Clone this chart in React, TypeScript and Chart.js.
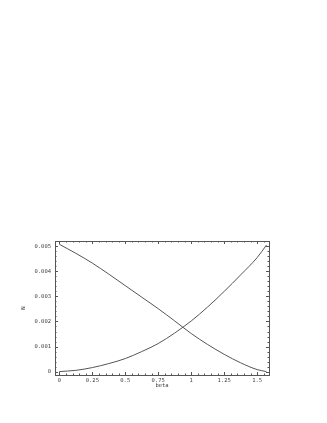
import React, { useEffect, useRef } from "react";
import { Chart, registerables } from "chart.js";

Chart.register(...registerables);

const betaDown = [0, 0.125, 0.25, 0.375, 0.5, 0.625, 0.75, 0.875, 1.0, 1.125, 1.25, 1.375, 1.5, 1.5708];
const nDown = [0.00508, 0.00472, 0.00433, 0.00389, 0.00343, 0.00297, 0.00251, 0.00202, 0.00152, 0.00108, 0.00069, 0.00035, 0.00008, 0.0];
const betaUp = [0, 0.125, 0.25, 0.375, 0.5, 0.625, 0.75, 0.875, 1.0, 1.125, 1.25, 1.375, 1.5, 1.5708];
const nUp = [0, 0.00005, 0.00016, 0.00032, 0.00052, 0.0008, 0.00112, 0.00154, 0.00202, 0.00258, 0.0032, 0.00386, 0.00455, 0.00505];
const xTicks = [0, 0.25, 0.5, 0.75, 1, 1.25, 1.5];
const yTicks = [0, 0.001, 0.002, 0.003, 0.004, 0.005];
const xTickLabels = ["0", "0.25", "0.5", "0.75", "1", "1.25", "1.5"];
const yTickLabels = ["0", "0.001", "0.002", "0.003", "0.004", "0.005"];

const LINE = "#555555";
const TEXT = "#444444";
const FONT = "'DejaVu Sans Mono', monospace";

const tickPlugin = {
  id: "innerTicks",
  afterDraw(chart: any) {
    const { ctx, chartArea: a, scales } = chart;
    const x = scales.x;
    const y = scales.y;
    ctx.save();
    ctx.strokeStyle = LINE;
    ctx.lineWidth = 1;
    ctx.strokeRect(Math.round(a.left) + 0.5, Math.round(a.top) + 0.5, Math.round(a.right - a.left), Math.round(a.bottom - a.top));
    ctx.beginPath();
    for (let i = 0; i <= 32; i++) {
      const v = i * 0.05;
      const px = Math.round(x.getPixelForValue(v)) + 0.5;
      if (px < a.left || px > a.right) continue;
      const len = i % 5 === 0 ? 3 : 1.5;
      ctx.moveTo(px, a.bottom);
      ctx.lineTo(px, a.bottom - len);
      ctx.moveTo(px, a.top);
      ctx.lineTo(px, a.top + len);
    }
    for (let i = 0; i <= 26; i++) {
      const v = i * 0.0002;
      const py = Math.round(y.getPixelForValue(v)) + 0.5;
      if (py < a.top || py > a.bottom) continue;
      const len = i % 5 === 0 ? 3 : 1.5;
      ctx.moveTo(a.left, py);
      ctx.lineTo(a.left + len, py);
      ctx.moveTo(a.right, py);
      ctx.lineTo(a.right - len, py);
    }
    ctx.stroke();
    ctx.restore();
  },
};

export default function App() {
  const ref = useRef<HTMLCanvasElement | null>(null);
  useEffect(() => {
    if (!ref.current) return;
    const chart = new Chart(ref.current, {
      type: "scatter",
      data: {
        datasets: [
          {
            data: betaDown.map((b, i) => ({ x: b, y: nDown[i] })),
            showLine: true,
            borderColor: LINE,
            borderWidth: 1,
            pointRadius: 0,
            cubicInterpolationMode: "monotone",
          },
          {
            data: betaUp.map((b, i) => ({ x: b, y: nUp[i] })),
            showLine: true,
            borderColor: LINE,
            borderWidth: 1,
            pointRadius: 0,
            cubicInterpolationMode: "monotone",
          },
        ],
      },
      options: {
        animation: false,
        responsive: false,
        layout: { padding: { left: 0, right: 58, top: 241, bottom: 24 } },
        plugins: { legend: { display: false }, tooltip: { enabled: false } },
        scales: {
          x: {
            type: "linear",
            min: -0.033,
            max: 1.59,
            afterBuildTicks: (s: any) => {
              s.ticks = xTicks.map((v) => ({ value: v }));
            },
            afterFit: (s: any) => {
              s.height = 24;
            },
            grid: { display: false, drawTicks: false },
            border: { display: false },
            ticks: {
              autoSkip: false,
              maxRotation: 0,
              padding: 2,
              color: TEXT,
              font: { family: FONT, size: 5.5 },
              callback: (v: any) => {
                const i = xTicks.indexOf(Number(v));
                return i >= 0 ? xTickLabels[i] : "";
              },
            },
            title: {
              display: true,
              text: "beta",
              color: TEXT,
              font: { family: FONT, size: 5.5 },
              padding: { top: 0, bottom: 10 },
            },
          },
          y: {
            type: "linear",
            min: -0.000136,
            max: 0.005212,
            afterBuildTicks: (s: any) => {
              s.ticks = yTicks.map((v) => ({ value: v }));
            },
            afterFit: (s: any) => {
              s.width = 55;
            },
            grid: { display: false, drawTicks: false },
            border: { display: false },
            ticks: {
              autoSkip: false,
              padding: 4,
              color: TEXT,
              font: { family: FONT, size: 5.5 },
              callback: (v: any) => {
                const i = yTicks.indexOf(Number(v));
                return i >= 0 ? yTickLabels[i] : "";
              },
            },
            title: {
              display: true,
              text: "N",
              color: TEXT,
              font: { family: FONT, size: 5.5 },
              padding: { top: 20.5, bottom: 0 },
            },
          },
        },
      },
      plugins: [tickPlugin],
    } as any);
    return () => chart.destroy();
  }, []);
  return (
    <div style={{ position: "absolute", left: 0, top: 0, width: 327, height: 423, background: "#fff" }}>
      <canvas ref={ref} width={327} height={423} style={{ display: "block" }} />
    </div>
  );
}
